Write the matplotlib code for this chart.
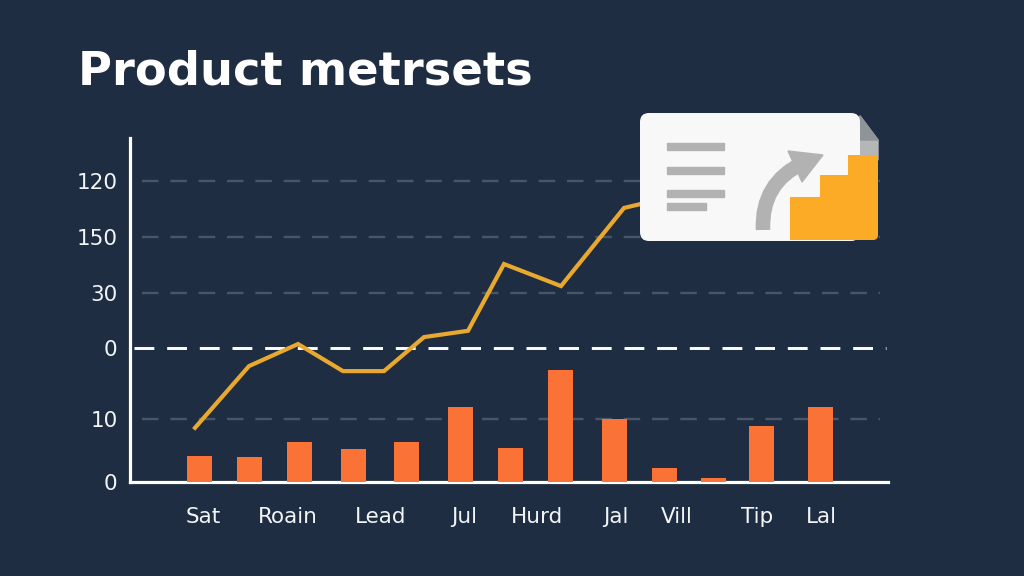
import matplotlib
matplotlib.use('Agg')
import matplotlib.pyplot as plt
from matplotlib.patches import FancyBboxPatch, Polygon, Rectangle, PathPatch
from matplotlib.path import Path

# dados
bar_x = [69.5, 119.5, 169.5, 223.5, 276.5, 330.5, 380.5, 430.5, 484.5, 534.5, 583.5, 631.5, 690.5]
bar_values = [4.2, 4.0, 6.3, 5.3, 6.3, 11.9, 5.4, 17.8, 10.0, 2.2, 0.7, 8.9, 11.9]
line_x = [65, 119, 168, 213, 254, 294, 338, 374, 431, 494, 510, 540]
line_values = [8.6, 18.4, 21.9, 17.6, 17.6, 23.0, 24.0, 34.6, 31.1, 43.5, 44.1, 46.0]
x_ticks = [73, 158, 251, 334, 407, 486, 547, 627, 691]
x_labels = ['Sat', 'Roain', 'Lead', 'Jul', 'Hurd', 'Jal', 'Vill', 'Tip', 'Lal']
y_ticks = [0, 10, 21.3, 30, 38.9, 47.8]
y_labels = ['0', '10', '0', '30', '150', '120']
grid_levels = [10, 30, 38.9, 47.8]
zero_level = 21.3

BG = '#1e2d42'

fig = plt.figure(figsize=(10.24, 5.76), dpi=100, facecolor=BG)
W, H = 1024, 576

# eixo principal
ax = fig.add_axes([130 / W, 1 - 482 / H, 758 / W, 344 / H], facecolor=BG)
ax.set_xlim(0, 758)
ax.set_ylim(0, 344 / 6.3)

ax.hlines(grid_levels, 12, 750, color='#485667', lw=1.7, linestyles=(0, (7, 5)), zorder=1)
ax.hlines(zero_level, 4, 756, color='white', lw=2.1, linestyles=(0, (6.8, 4.4)), zorder=2)
ax.bar(bar_x, bar_values, width=25.5, color='#fa7236', zorder=3)
ax.plot(line_x, line_values, color='#e8a92e', lw=3.0, solid_joinstyle='miter', zorder=4)

for lado in ['top', 'right']:
    ax.spines[lado].set_visible(False)
for lado in ['left', 'bottom']:
    ax.spines[lado].set_color('white')
    ax.spines[lado].set_linewidth(2.3)

ax.set_xticks(x_ticks, x_labels)
ax.set_yticks(y_ticks, y_labels)
ax.tick_params(axis='x', length=0, pad=18, labelsize=15.5, labelcolor='#f2f4f6')
ax.tick_params(axis='y', length=0, pad=9, labelsize=15.5, labelcolor='#f2f4f6')

# camada em pixels para o cartão e o título
over = fig.add_axes([0, 0, 1, 1], facecolor='none')
over.set_xlim(0, W)
over.set_ylim(H, 0)
over.axis('off')

over.text(78, 72, 'Product metrsets', color='white', fontsize=33.4, fontweight='bold', va='center', ha='left')

# canto dobrado
over.add_patch(Polygon([(856, 122), (860, 116), (878, 140), (878, 160), (856, 160)], color='#b4b6b8', zorder=1))
over.add_patch(Polygon([(860, 116), (878, 140), (860, 140)], color='#8f9499', zorder=1))

# cartão
over.add_patch(FancyBboxPatch((648, 121), 204, 112, boxstyle='round,pad=8,rounding_size=9',
                              fc='#f8f8f8', ec='none', zorder=2))

for y0, largura in [(143, 57), (167, 57), (190, 57), (203, 39)]:
    over.add_patch(Rectangle((667, y0), largura, 7, color='#b2b2b2', zorder=3))

# seta
over.add_patch(PathPatch(Path([(763, 230), (761, 183), (803, 163)], [Path.MOVETO, Path.CURVE3, Path.CURVE3]),
                         fc='none', ec='#b2b2b2', lw=10.5, capstyle='butt', zorder=3))
over.add_patch(Polygon([(788, 151), (823, 155), (802, 182)], color='#b2b2b2', zorder=3))

# degraus laranja
for x0, y0, x1 in [(790, 197, 822), (820, 175, 849)]:
    over.add_patch(Rectangle((x0, y0), x1 - x0, 240 - y0, color='#fbab25', lw=0, zorder=4))
over.add_patch(FancyBboxPatch((848, 155), 30, 85, boxstyle='round,pad=0,rounding_size=5',
                              fc='#fbab25', ec='none', zorder=4))
over.add_patch(Rectangle((848, 155), 30, 60, color='#fbab25', lw=0, zorder=4))
over.add_patch(Rectangle((848, 215), 15, 25, color='#fbab25', lw=0, zorder=4))

fig.savefig('out.png', dpi=100, facecolor=BG)
